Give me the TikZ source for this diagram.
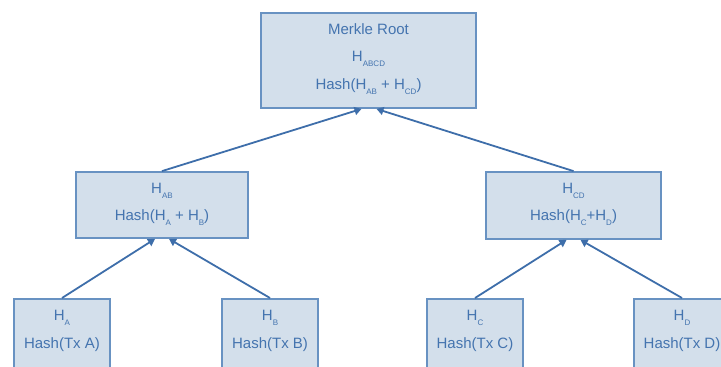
\documentclass[tikz,border=0pt]{standalone}
\usepackage{fontspec}
\setmainfont{Liberation Sans}
\usetikzlibrary{arrows.meta}
\definecolor{boxfill}{RGB}{211,223,235}
\definecolor{boxline}{RGB}{104,146,194}
\definecolor{inktext}{RGB}{68,116,175}
\definecolor{inkarrow}{RGB}{62,110,170}
% lowered, small subscript used in the hash labels
\newcommand\hsub[1]{\raisebox{-5.5pt}{\fontsize{8}{8}\selectfont #1}}
\tikzset{
  hashbox/.style={draw=boxline, fill=boxfill, line width=1.8pt, rectangle, inner sep=0pt},
  hashtext/.style={text=inktext, font=\fontsize{15}{15}\selectfont, inner sep=0pt, anchor=base},
  link/.style={draw=inkarrow, line width=1.8pt, -{Triangle[length=7pt,width=8pt]}}
}
\begin{document}
\begin{tikzpicture}[x=1pt,y=-1pt]
  \useasboundingbox (0,0) rectangle (721,367);
  \clip (0,0) rectangle (721,367);

  % root
  \node[hashbox, minimum width=215pt, minimum height=95pt] (root) at (368.5,60.5) {};
  \node[hashtext] (rootname) at (368.5,34) {Merkle Root};
  \node[hashtext] (rooth) at (368.5,61) {H\hsub{ABCD}};
  \node[hashtext] (rootf) at (368.5,89) {Hash(H\hsub{AB} + H\hsub{CD})};

  % second level
  \node[hashbox, minimum width=172pt, minimum height=66pt] (hab) at (162,205) {};
  \node[hashtext] (habh) at (162,193) {H\hsub{AB}};
  \node[hashtext] (habf) at (162,220) {Hash(H\hsub{A} + H\hsub{B})};

  \node[hashbox, minimum width=175pt, minimum height=67pt] (hcd) at (573.5,205.5) {};
  \node[hashtext] (hcdh) at (573.5,193) {H\hsub{CD}};
  \node[hashtext] (hcdf) at (573.5,220) {Hash(H\hsub{C}+H\hsub{D})};

  % leaves
  \foreach \nm/\cx/\lt in {ha/62/A, hb/270/B, hc/475/C, hd/682/D}{
    \node[hashbox, minimum width=96pt, minimum height=80pt, anchor=north] (\nm) at (\cx,298) {};
    \node[hashtext] (\nm h) at (\cx,320) {H\hsub{\lt}};
    \node[hashtext] (\nm f) at (\cx,348) {Hash(Tx \lt)};
  }

  % connectors
  \draw[link] (hab.north) -- ([xshift=-7pt]root.south);
  \draw[link] (hcd.north) -- ([xshift=8pt]root.south);
  \draw[link] (ha.north) -- ([xshift=-7pt]hab.south);
  \draw[link] (hb.north) -- ([xshift=7pt]hab.south);
  \draw[link] (hc.north) -- ([xshift=-7pt]hcd.south);
  \draw[link] (hd.north) -- ([xshift=7pt]hcd.south);
\end{tikzpicture}
\end{document}
